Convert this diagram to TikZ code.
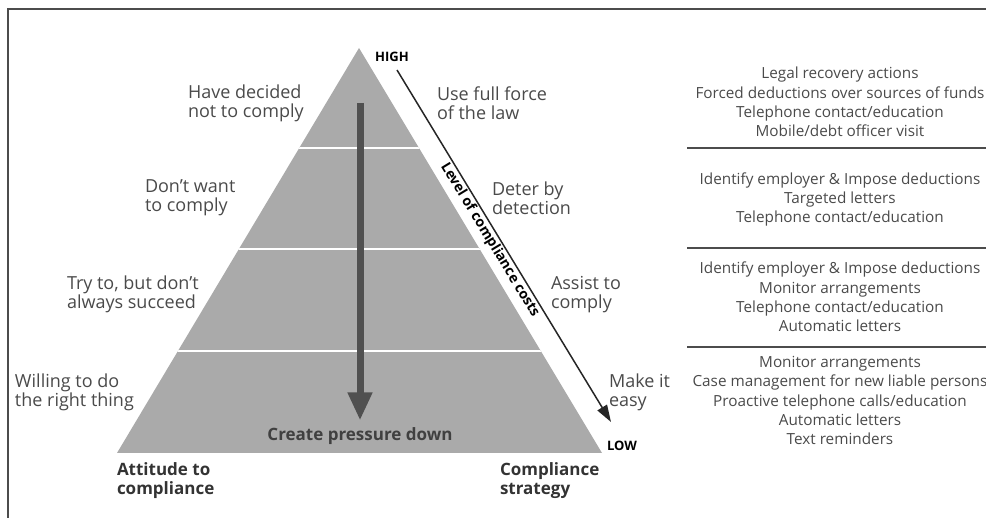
\documentclass[tikz,border=0pt]{standalone}
\usepackage{fontspec}
\setmainfont{Open Sans}
\usetikzlibrary{positioning, arrows.meta}
\definecolor{pyramidgray}{HTML}{AAAAAA}
\definecolor{textgray}{HTML}{4A4A4A}
\definecolor{arrowgray}{HTML}{505050}
\tikzset{
x=1pt, y=-1pt, % one unit is one pixel of the sketch, y runs downwards
every node/.style={inner sep=0pt, outer sep=0pt, text=textgray},
attitude/.style={anchor=west, align=left, font=\fontsize{18}{19}\selectfont}, % labels left of the pyramid
strategy/.style={attitude}, % labels right of the pyramid
action/.style={align=center, font=\fontsize{15.3}{19.3}\selectfont}, % list of actions on the far right
heading/.style={anchor=north west, align=left, font=\bfseries\fontsize{17}{19}\selectfont, text=black!80},
level/.style={font=\bfseries\fontsize{13}{13}\selectfont, text=black},
divider/.style={white, line width=2pt},
separator/.style={black!70, line width=1.2pt},
pressure/.style={arrowgray, line width=7pt, -{Triangle[width=23pt, length=28pt]}},
cost/.style={black!85, line width=1.5pt, -{Triangle[width=11pt, length=17pt]}},
frame/.style={black!70, line width=1.5pt},
}

\begin{document}
\begin{tikzpicture}
    \useasboundingbox (0,0) rectangle (986,518);
    \draw[frame] (986,9) -- (8,9) -- (8,518);

    % the pyramid
    \coordinate (apex) at (359,48);
    \coordinate (left corner) at (117,453);
    \coordinate (right corner) at (602,453);
    \fill[pyramidgray] (apex) -- (left corner) -- (right corner) -- cycle;
    \begin{scope}
        \clip (apex) -- (left corner) -- (right corner) -- cycle;
        \foreach \y in {148,249,351}
            \draw[divider] (100,\y) -- (620,\y);
    \end{scope}

    % pressure down the middle
    \coordinate (push top) at (360,103);
    \node[font=\bfseries\fontsize{17}{19}\selectfont, text=black!75] (pressure) at (360,436) {Create pressure down};
    \coordinate[above=7pt of pressure] (push tip);
    \draw[pressure] (push top) -- (push tip);

    % level of compliance costs
    \node[level] (high) at (392,57) {HIGH};
    \node[level] (low) at (622,446) {LOW};
    \coordinate (cost top) at (397,70);
    \coordinate (cost tip) at (611,422);
    \draw[cost] (cost top) -- node[level, font=\bfseries\fontsize{14}{14}\selectfont, sloped, below=2pt, pos=0.47] (costs) {Level of compliance costs} (cost tip);

    % attitude to compliance
    \node[attitude] (decided) at (188,103) {Have decided\\not to comply};
    \node[attitude] (dontwant) at (145,198) {Don't want\\to comply};
    \node[attitude] (tryto) at (67,294) {Try to, but don't\\always succeed};
    \node[attitude] (willing) at (15,392) {Willing to do\\the right thing};

    % compliance strategy
    \node[strategy] (fullforce) at (437,103) {Use full force\\of the law};
    \node[strategy] (deter) at (492,198) {Deter by\\detection};
    \node[strategy] (assist) at (551,295) {Assist to\\comply};
    \node[strategy] (easy) at (609,392) {Make it\\easy};

    \node[heading, below right=10pt and 0pt of left corner] (attitudehead) {Attitude to\\compliance};
    \node[heading] (strategyhead) at (500,463) {Compliance\\strategy};

    % actions for each level
    \node[action] (legal) at (840,102) {Legal recovery actions\\Forced deductions over sources of funds\\Telephone contact/education\\Mobile/debt officer visit};
    \node[action] (targeted) at (840,199.5) {Identify employer \& Impose deductions\\Targeted letters\\Telephone contact/education};
    \node[action] (monitor) at (840,297) {Identify employer \& Impose deductions\\Monitor arrangements\\Telephone contact/education\\Automatic letters};
    \node[action] (proactive) at (840,400.5) {Monitor arrangements\\Case management for new liable persons\\Proactive telephone calls/education\\Automatic letters\\Text reminders};
    \foreach \y in {148,248,347}
        \draw[separator] (687,\y) -- (986,\y);
\end{tikzpicture}
\end{document}
